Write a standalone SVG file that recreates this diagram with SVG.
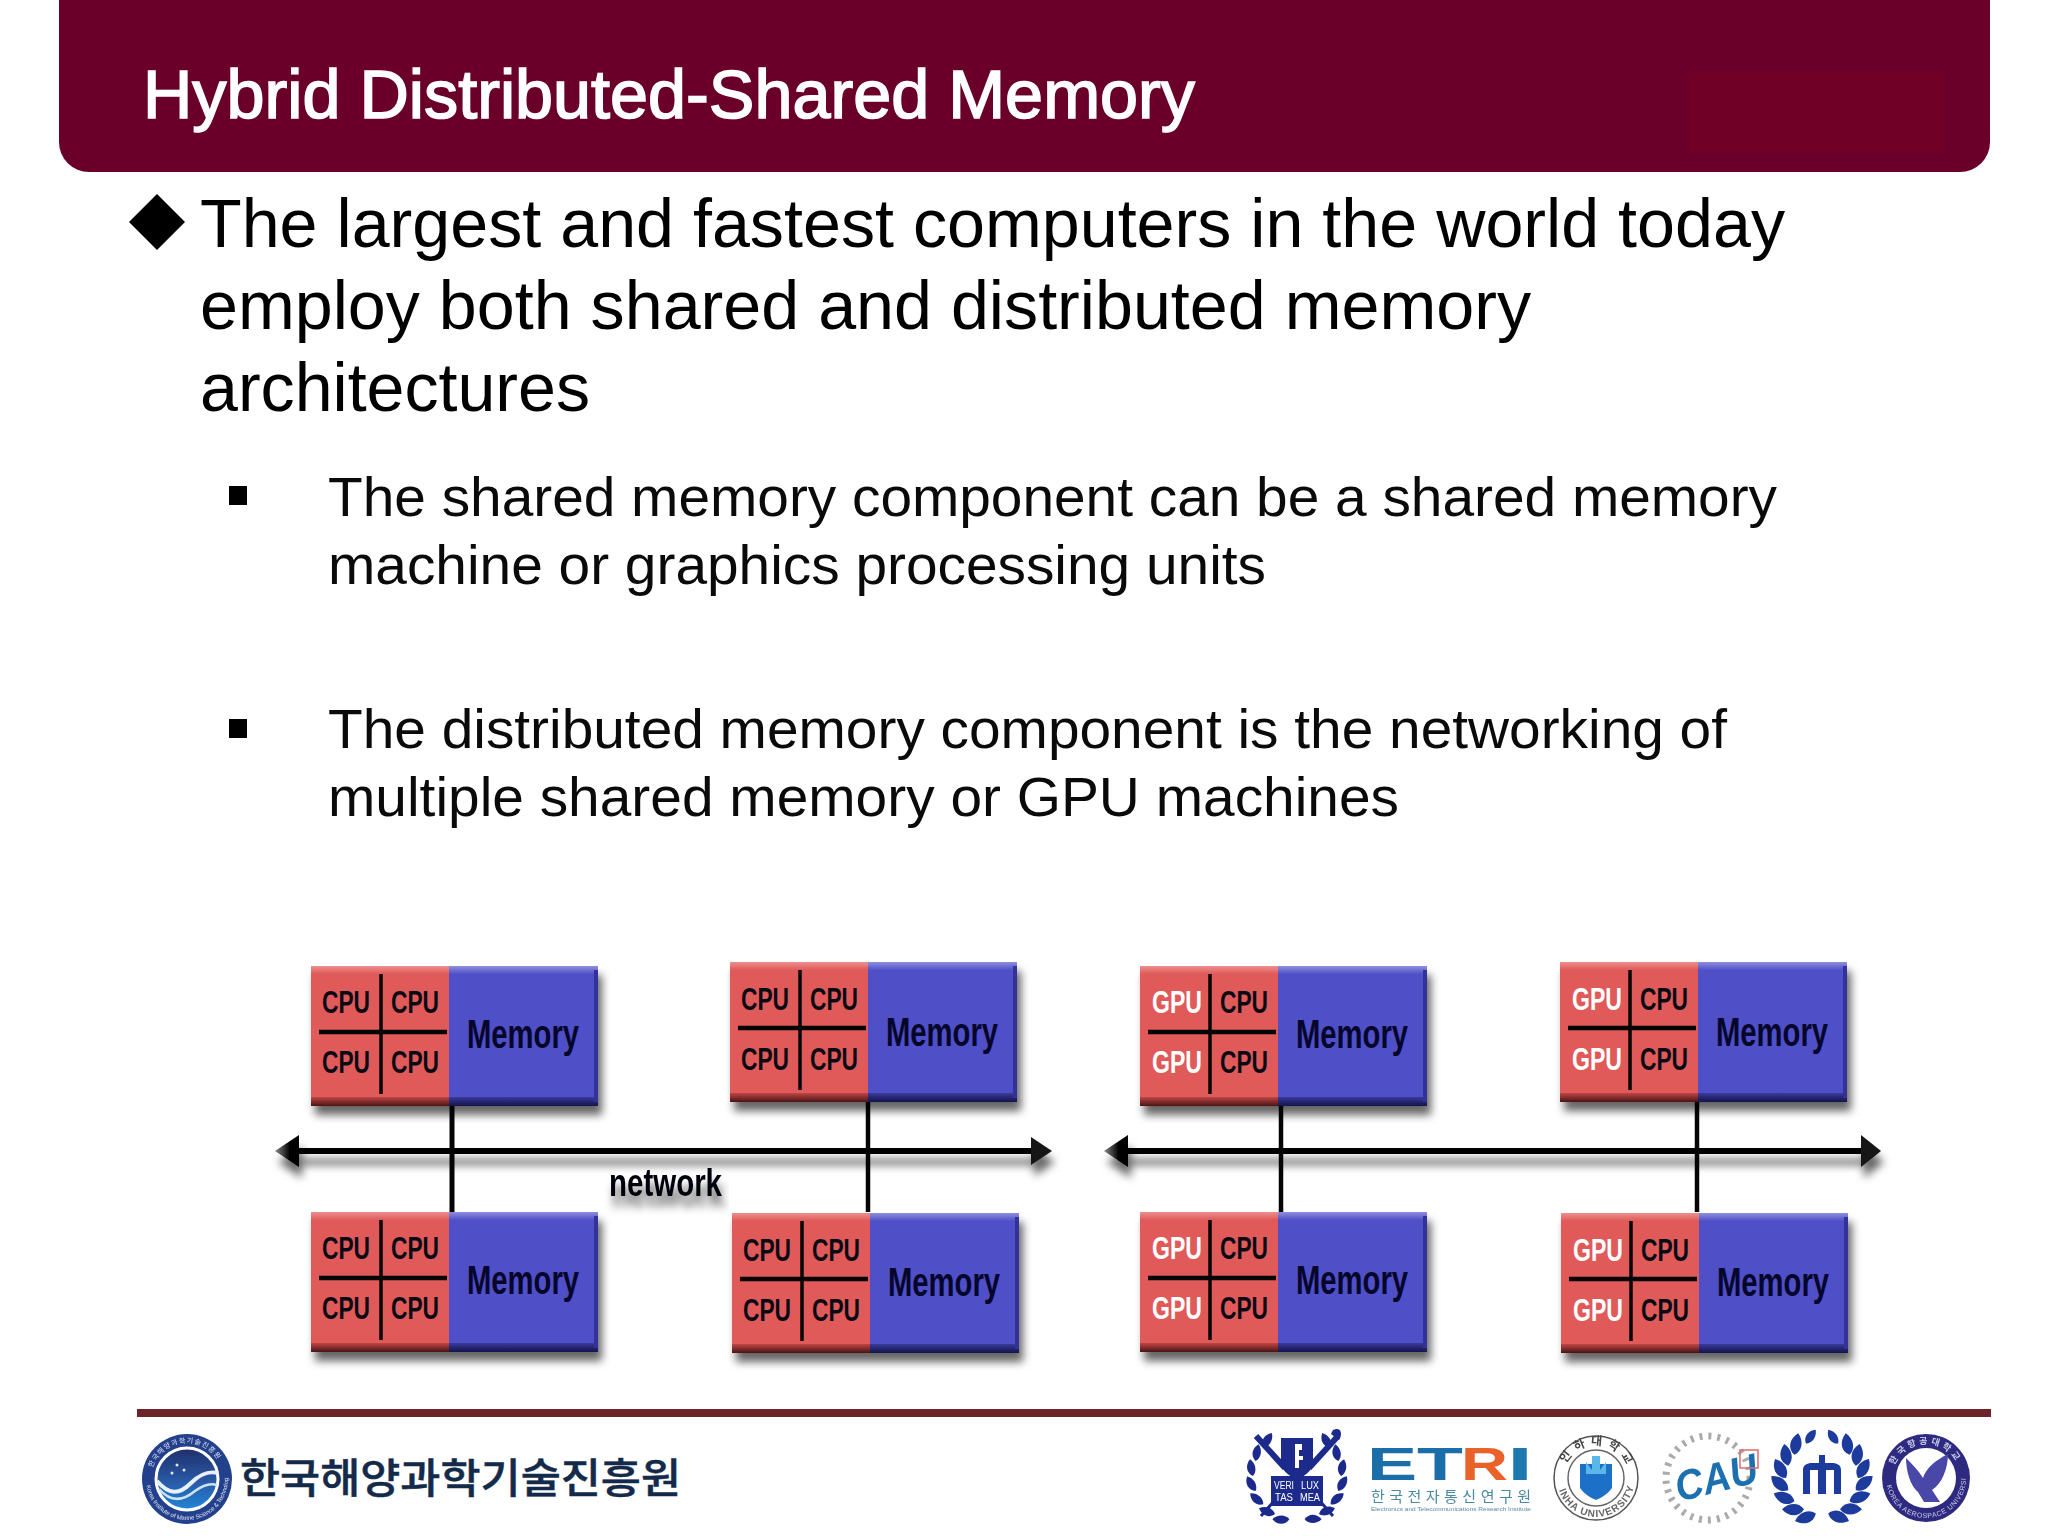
<svg xmlns="http://www.w3.org/2000/svg" width="2048" height="1536" viewBox="0 0 2048 1536">
<style>
text{font-family:"Liberation Sans",Arial,sans-serif}
.h{font-size:68px;fill:#000}
.s{font-size:56px;fill:#0a0a0a}
.p{font-size:32px;font-weight:bold;fill:#0a0a14}
.g{font-size:32px;font-weight:bold;fill:#fff}
.m{font-size:40px;font-weight:bold;fill:#06062a}
.line{stroke:#050505;fill:none}
.ko{font-family:"Liberation Sans","Noto Sans CJK KR",sans-serif}
</style>
<defs>
<filter id="sh" x="-10%" y="-20%" width="125%" height="150%"><feDropShadow dx="4" dy="9" stdDeviation="4.5" flood-color="#000" flood-opacity=".6"/></filter>
<filter id="shl" x="-5%" y="-100%" width="110%" height="500%"><feDropShadow dx="3" dy="11" stdDeviation="4.5" flood-color="#000" flood-opacity=".6"/></filter>
<filter id="soft" x="-10%" y="-10%" width="120%" height="120%"><feGaussianBlur stdDeviation=".6"/></filter>
<linearGradient id="rt" x1="0" y1="0" x2="0" y2="1"><stop offset="0" stop-color="#ec8f8f"/><stop offset="1" stop-color="#e05a5a"/></linearGradient>
<linearGradient id="bt" x1="0" y1="0" x2="0" y2="1"><stop offset="0" stop-color="#8f8fdc"/><stop offset="1" stop-color="#5050c8"/></linearGradient>
<linearGradient id="rb" x1="0" y1="0" x2="0" y2="1"><stop offset="0" stop-color="#c04545"/><stop offset="1" stop-color="#4a1414"/></linearGradient>
<linearGradient id="bb" x1="0" y1="0" x2="0" y2="1"><stop offset="0" stop-color="#3a3a9c"/><stop offset="1" stop-color="#14144a"/></linearGradient>
<linearGradient id="ocean" x1="0" y1="0" x2="0" y2="1"><stop offset="0" stop-color="#1f2f6a"/><stop offset=".55" stop-color="#2a5aa8"/><stop offset="1" stop-color="#1f86d4"/></linearGradient>
<linearGradient id="hl" x1="0" y1="0" x2="1" y2="0"><stop offset="0" stop-color="#888"/><stop offset=".6" stop-color="#050505"/></linearGradient>
<g id="box">
<g filter="url(#sh)">
<rect x="0" y="0" width="138" height="140" fill="#e05a5a"/>
<rect x="138" y="0" width="149" height="140" fill="#5050c8"/>
<rect x="0" y="0" width="138" height="8" fill="url(#rt)"/>
<rect x="138" y="0" width="149" height="8" fill="url(#bt)"/>
<rect x="0" y="131" width="138" height="9" fill="url(#rb)"/>
<rect x="138" y="131" width="149" height="9" fill="url(#bb)"/>
<rect x="283" y="4" width="4" height="132" fill="#33339a"/>
</g>
<path class="line" stroke-width="3.5" d="M70 8V128"/>
<path class="line" stroke-width="4.5" d="M8 66H136"/>
</g>
<path id="lf" d="M0 0C4-6 12-6 17 0C12 5 4 5 0 0Z"/>
<path id="lg" d="M0 0C5-8 15-8 22 0C15 7 5 7 0 0Z"/>
</defs>
<rect width="2048" height="1536" fill="#fff"/>

<g id="header">
<path d="M59 0H1990V142A30 30 0 0 1 1960 172H89A30 30 0 0 1 59 142Z" fill="#6a0029"/>
<rect x="1689" y="73" width="255" height="79" fill="#700025"/>
<text x="143" y="118" font-size="69" fill="#fff" stroke="#fff" stroke-width="1.6" textLength="1052" lengthAdjust="spacingAndGlyphs">Hybrid Distributed-Shared Memory</text>
</g>

<g id="body-text">
<path d="M157 194L185 222L157 250L129 222Z" fill="#000"/>
<text class="h" x="200" y="247" textLength="1585" lengthAdjust="spacingAndGlyphs">The largest and fastest computers in the world today</text>
<text class="h" x="200" y="329" textLength="1331" lengthAdjust="spacingAndGlyphs">employ both shared and distributed memory</text>
<text class="h" x="200" y="411" textLength="390" lengthAdjust="spacingAndGlyphs">architectures</text>
<rect x="229" y="486" width="18" height="19" fill="#000"/>
<text class="s" x="328" y="516" textLength="1449" lengthAdjust="spacingAndGlyphs">The shared memory component can be a shared memory</text>
<text class="s" x="328" y="584" textLength="938" lengthAdjust="spacingAndGlyphs">machine or graphics processing units</text>
<rect x="229" y="719" width="18" height="19" fill="#000"/>
<text class="s" x="328" y="748" textLength="1399" lengthAdjust="spacingAndGlyphs">The distributed memory component is the networking of</text>
<text class="s" x="328" y="816" textLength="1071" lengthAdjust="spacingAndGlyphs">multiple shared memory or GPU machines</text>
</g>

<g id="connectors">
<g filter="url(#shl)">
<path class="line" stroke-width="6" d="M295 1151H1035"/>
<path d="M275 1151L299 1135V1167Z" fill="url(#hl)"/>
<path d="M1052 1151L1031 1137V1165Z" fill="#151515"/>
<path class="line" stroke-width="6" d="M1120 1151H1868"/>
<path d="M1104 1151L1128 1135V1167Z" fill="url(#hl)"/>
<path d="M1881 1151L1861 1135V1167Z" fill="#151515"/>
</g>
<path class="line" stroke-width="5" d="M452 1106V1212"/>
<path class="line" stroke-width="4.5" d="M868 1102V1212"/>
<path class="line" stroke-width="4.5" d="M1281 1106V1212"/>
<path class="line" stroke-width="4.5" d="M1697 1102V1212"/>
</g>
<text id="network-label" x="609" y="1196" font-size="38" font-weight="bold" fill="#06060c" textLength="113" lengthAdjust="spacingAndGlyphs" filter="url(#shl)">network</text>

<g id="node-1" transform="translate(311,966)"><use href="#box"/>
<text class="p" x="11" y="47" textLength="48" lengthAdjust="spacingAndGlyphs">CPU</text><text class="p" x="80" y="47" textLength="48" lengthAdjust="spacingAndGlyphs">CPU</text>
<text class="p" x="11" y="107" textLength="48" lengthAdjust="spacingAndGlyphs">CPU</text><text class="p" x="80" y="107" textLength="48" lengthAdjust="spacingAndGlyphs">CPU</text>
<text class="m" x="156" y="82" textLength="112" lengthAdjust="spacingAndGlyphs">Memory</text></g>
<g id="node-2" transform="translate(730,962)"><use href="#box"/>
<text class="p" x="11" y="48" textLength="48" lengthAdjust="spacingAndGlyphs">CPU</text><text class="p" x="80" y="48" textLength="48" lengthAdjust="spacingAndGlyphs">CPU</text>
<text class="p" x="11" y="108" textLength="48" lengthAdjust="spacingAndGlyphs">CPU</text><text class="p" x="80" y="108" textLength="48" lengthAdjust="spacingAndGlyphs">CPU</text>
<text class="m" x="156" y="84" textLength="112" lengthAdjust="spacingAndGlyphs">Memory</text></g>
<g id="node-3" transform="translate(311,1212)"><use href="#box"/>
<text class="p" x="11" y="47" textLength="48" lengthAdjust="spacingAndGlyphs">CPU</text><text class="p" x="80" y="47" textLength="48" lengthAdjust="spacingAndGlyphs">CPU</text>
<text class="p" x="11" y="107" textLength="48" lengthAdjust="spacingAndGlyphs">CPU</text><text class="p" x="80" y="107" textLength="48" lengthAdjust="spacingAndGlyphs">CPU</text>
<text class="m" x="156" y="82" textLength="112" lengthAdjust="spacingAndGlyphs">Memory</text></g>
<g id="node-4" transform="translate(732,1213)"><use href="#box"/>
<text class="p" x="11" y="48" textLength="48" lengthAdjust="spacingAndGlyphs">CPU</text><text class="p" x="80" y="48" textLength="48" lengthAdjust="spacingAndGlyphs">CPU</text>
<text class="p" x="11" y="108" textLength="48" lengthAdjust="spacingAndGlyphs">CPU</text><text class="p" x="80" y="108" textLength="48" lengthAdjust="spacingAndGlyphs">CPU</text>
<text class="m" x="156" y="83" textLength="112" lengthAdjust="spacingAndGlyphs">Memory</text></g>
<g id="node-5" transform="translate(1140,966)"><use href="#box"/>
<text class="g" x="12" y="47" textLength="50" lengthAdjust="spacingAndGlyphs">GPU</text><text class="p" x="80" y="47" textLength="48" lengthAdjust="spacingAndGlyphs">CPU</text>
<text class="g" x="12" y="107" textLength="50" lengthAdjust="spacingAndGlyphs">GPU</text><text class="p" x="80" y="107" textLength="48" lengthAdjust="spacingAndGlyphs">CPU</text>
<text class="m" x="156" y="82" textLength="112" lengthAdjust="spacingAndGlyphs">Memory</text></g>
<g id="node-6" transform="translate(1560,962)"><use href="#box"/>
<text class="g" x="12" y="48" textLength="50" lengthAdjust="spacingAndGlyphs">GPU</text><text class="p" x="80" y="48" textLength="48" lengthAdjust="spacingAndGlyphs">CPU</text>
<text class="g" x="12" y="108" textLength="50" lengthAdjust="spacingAndGlyphs">GPU</text><text class="p" x="80" y="108" textLength="48" lengthAdjust="spacingAndGlyphs">CPU</text>
<text class="m" x="156" y="84" textLength="112" lengthAdjust="spacingAndGlyphs">Memory</text></g>
<g id="node-7" transform="translate(1140,1212)"><use href="#box"/>
<text class="g" x="12" y="47" textLength="50" lengthAdjust="spacingAndGlyphs">GPU</text><text class="p" x="80" y="47" textLength="48" lengthAdjust="spacingAndGlyphs">CPU</text>
<text class="g" x="12" y="107" textLength="50" lengthAdjust="spacingAndGlyphs">GPU</text><text class="p" x="80" y="107" textLength="48" lengthAdjust="spacingAndGlyphs">CPU</text>
<text class="m" x="156" y="82" textLength="112" lengthAdjust="spacingAndGlyphs">Memory</text></g>
<g id="node-8" transform="translate(1561,1213)"><use href="#box"/>
<text class="g" x="12" y="48" textLength="50" lengthAdjust="spacingAndGlyphs">GPU</text><text class="p" x="80" y="48" textLength="48" lengthAdjust="spacingAndGlyphs">CPU</text>
<text class="g" x="12" y="108" textLength="50" lengthAdjust="spacingAndGlyphs">GPU</text><text class="p" x="80" y="108" textLength="48" lengthAdjust="spacingAndGlyphs">CPU</text>
<text class="m" x="156" y="83" textLength="112" lengthAdjust="spacingAndGlyphs">Memory</text></g>

<g id="footer">
<rect x="137" y="1409" width="1854" height="8" fill="#6b2528"/>
<g id="logo-kiost" transform="translate(187,1479)" filter="url(#soft)">
<circle r="45" fill="#24408c"/>
<circle r="31" fill="url(#ocean)" stroke="#fff" stroke-width="3"/>
<path id="k-top" d="M-36 0A36 36 0 0 1 36 0" fill="none"/>
<path id="k-bot" d="M-41 0A41 41 0 0 0 41 0" fill="none"/>
<text class="ko" font-size="7" fill="#dfe6f6" letter-spacing="1"><textPath href="#k-top" startOffset="10%">한국해양과학기술진흥원</textPath></text>
<text font-size="6" fill="#dfe6f6"><textPath href="#k-bot" startOffset="5%">Korea Institute of Marine Science &amp; Technology Promotion</textPath></text>
<path d="M-30 2C-18 16 -8 16 4 4C14-6 22-8 31-6" fill="none" stroke="#e8f0fa" stroke-width="4"/>
<path d="M-28 10C-16 24 -4 22 8 12C16 6 24 4 30 6" fill="none" stroke="#cfe2f4" stroke-width="2.5"/>
<circle cx="-10" cy="-14" r="1.5" fill="#dfe8ff"/><circle cx="-3" cy="-9" r="1.5" fill="#dfe8ff"/><circle cx="-15" cy="-6" r="1.5" fill="#dfe8ff"/>
</g>
<text class="ko" x="240" y="1493" font-size="41" font-weight="500" fill="#142a4a" stroke="#142a4a" stroke-width=".5" textLength="441" lengthAdjust="spacingAndGlyphs">한국해양과학기술진흥원</text>

<g id="logo-snu" transform="translate(1297,1476)" fill="#1d2a8c" filter="url(#soft)">
<g id="snu-wreath">
<use href="#lf" transform="rotate(100) translate(44,0) rotate(80)"/><use href="#lf" transform="rotate(120) translate(44,0) rotate(80)"/><use href="#lf" transform="rotate(140) translate(44,0) rotate(80)"/><use href="#lf" transform="rotate(160) translate(44,0) rotate(80)"/><use href="#lf" transform="rotate(180) translate(44,0) rotate(80)"/><use href="#lf" transform="rotate(200) translate(44,0) rotate(80)"/><use href="#lf" transform="rotate(220) translate(44,0) rotate(80)"/>
<use href="#lf" transform="rotate(80) translate(44,0) rotate(-80)"/><use href="#lf" transform="rotate(60) translate(44,0) rotate(-80)"/><use href="#lf" transform="rotate(40) translate(44,0) rotate(-80)"/><use href="#lf" transform="rotate(20) translate(44,0) rotate(-80)"/><use href="#lf" transform="rotate(0) translate(44,0) rotate(-80)"/><use href="#lf" transform="rotate(-20) translate(44,0) rotate(-80)"/><use href="#lf" transform="rotate(-40) translate(44,0) rotate(-80)"/>
</g>
<path d="M-41-40L-12 -8" stroke="#1d2a8c" stroke-width="6"/>
<path d="M41-40L12 -8" stroke="#1d2a8c" stroke-width="6"/>
<path d="M36-46C44-50 46-42 42-36L34-42Z"/>
<path d="M-36 40L-22 24M36 40L22 24" stroke="#1d2a8c" stroke-width="3"/>
<path d="M-16-38H16V-14C16-4 6 0 0 4C-6 0-16-4-16-14Z"/>
<path d="M-2-32H5V-26H2V-20H6V-16H2V-8H-2Z" fill="#fff"/>
<rect x="-26" y="0" width="52" height="30" fill="#1d2a8c"/>
<text x="-13" y="13" font-size="10" fill="#fff" text-anchor="middle" textLength="20" lengthAdjust="spacingAndGlyphs">VERI</text>
<text x="13" y="13" font-size="10" fill="#fff" text-anchor="middle" textLength="18" lengthAdjust="spacingAndGlyphs">LUX</text>
<text x="-13" y="25" font-size="10" fill="#fff" text-anchor="middle" textLength="18" lengthAdjust="spacingAndGlyphs">TAS</text>
<text x="13" y="25" font-size="10" fill="#fff" text-anchor="middle" textLength="20" lengthAdjust="spacingAndGlyphs">MEA</text>
</g>

<g id="logo-etri" filter="url(#soft)">
<text x="1367" y="1480" font-size="46" font-weight="bold" fill="#1a6ea8" textLength="96" lengthAdjust="spacingAndGlyphs">ET</text>
<text x="1461" y="1480" font-size="46" font-weight="bold" fill="#e8622a" textLength="47" lengthAdjust="spacingAndGlyphs">R</text>
<text x="1507" y="1480" font-size="46" font-weight="bold" fill="#1a7ab0" textLength="26" lengthAdjust="spacingAndGlyphs">I</text>
<text class="ko" x="1371" y="1502" font-size="15" fill="#4a8aa0" textLength="160">한국전자통신연구원</text>
<text x="1371" y="1511" font-size="6" fill="#5a8aa0" textLength="160" lengthAdjust="spacingAndGlyphs">Electronics and Telecommunications Research Institute</text>
</g>

<g id="logo-inha" transform="translate(1596,1478)" filter="url(#soft)">
<circle r="42" fill="#fff" stroke="#555" stroke-width="1.5"/>
<circle r="28" fill="#fff" stroke="#666" stroke-width="1.5"/>
<path id="inha-top" d="M-33 0A33 33 0 0 1 33 0" fill="none"/>
<path id="inha-bot" d="M-39 0A39 39 0 0 0 39 0" fill="none"/>
<text class="ko" font-size="12" font-weight="bold" fill="#444" letter-spacing="5"><textPath href="#inha-top" startOffset="14%">인하대학교</textPath></text>
<text font-size="10" font-family="Liberation Serif" font-weight="bold" fill="#666" letter-spacing="1"><textPath href="#inha-bot" startOffset="10%">INHA UNIVERSITY</textPath></text>
<path d="M-16-14H16V10C10 18 4 20 0 22C-4 20-10 18-16 10Z" fill="#1a70c8"/>
<path d="M-10-16L-4-8V-22H4V-8L10-16V-4H-10Z" fill="#5ab8e8"/>
</g>

<g id="logo-cau" transform="translate(1708,1478)" filter="url(#soft)">
<circle r="42" fill="none" stroke="#aaa" stroke-width="7" stroke-dasharray="3 6"/>
<circle r="36" fill="#fff"/>
<text x="-34" y="16" font-size="42" font-weight="bold" font-style="italic" fill="#1a70b0" textLength="84" lengthAdjust="spacingAndGlyphs" transform="rotate(-14)">CAU</text>
<rect x="32" y="-28" width="18" height="18" fill="none" stroke="#e06a70" stroke-width="1.5"/>
</g>

<g id="logo-wreath" transform="translate(1822,1478)" fill="#1d3a9c" filter="url(#soft)">
<use href="#lg" transform="rotate(100) translate(36,0) rotate(60)"/><use href="#lg" transform="rotate(120) translate(36,0) rotate(60)"/><use href="#lg" transform="rotate(140) translate(36,0) rotate(60)"/><use href="#lg" transform="rotate(160) translate(36,0) rotate(60)"/><use href="#lg" transform="rotate(180) translate(36,0) rotate(60)"/><use href="#lg" transform="rotate(200) translate(36,0) rotate(60)"/><use href="#lg" transform="rotate(220) translate(36,0) rotate(60)"/><use href="#lf" transform="rotate(245) translate(38,0) rotate(60)"/>
<use href="#lg" transform="rotate(80) translate(36,0) rotate(-60)"/><use href="#lg" transform="rotate(60) translate(36,0) rotate(-60)"/><use href="#lg" transform="rotate(40) translate(36,0) rotate(-60)"/><use href="#lg" transform="rotate(20) translate(36,0) rotate(-60)"/><use href="#lg" transform="rotate(0) translate(36,0) rotate(-60)"/><use href="#lg" transform="rotate(-20) translate(36,0) rotate(-60)"/><use href="#lg" transform="rotate(-40) translate(36,0) rotate(-60)"/><use href="#lf" transform="rotate(-65) translate(38,0) rotate(-60)"/>
<path d="M-19 16V-8C-19-13-15-15-10-15H-3V-23H3V-15H10C15-15 19-13 19-8V16H12V-8H4V16H-4V-8H-12V16Z"/>
</g>

<g id="logo-kau" transform="translate(1926,1478)" filter="url(#soft)">
<circle r="44" fill="#2e2a80"/>
<circle r="30" fill="#fff"/>
<path id="kau-top" d="M-34 0A34 34 0 0 1 34 0" fill="none"/>
<path id="kau-bot" d="M-40 0A40 40 0 0 0 40 0" fill="none"/>
<text class="ko" font-size="9" font-weight="bold" fill="#cfcff0" letter-spacing="3"><textPath href="#kau-top" startOffset="12%">한국항공대학교</textPath></text>
<text font-size="7" fill="#cfcff0" letter-spacing=".6"><textPath href="#kau-bot" startOffset="6%">KOREA AEROSPACE UNIVERSITY</textPath></text>
<path d="M-20-20C-14-14-8-8-3 0C0-10 10-18 22-24C22-10 16 6 6 12L14 24H-2L-8 14C-16 8-20-8-20-20Z" fill="#4a46a8"/>
</g>
</g>
</svg>
